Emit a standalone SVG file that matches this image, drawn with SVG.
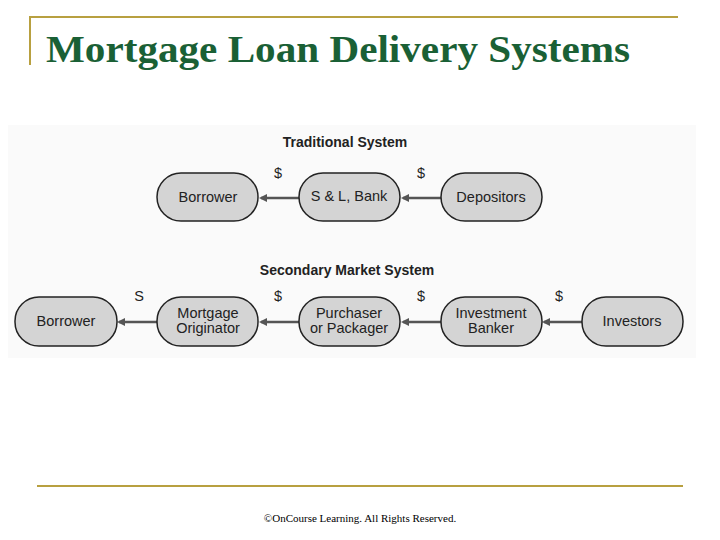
<svg xmlns="http://www.w3.org/2000/svg" width="720" height="540" viewBox="0 0 720 540">
<style>
.n{fill:#d4d4d4;stroke:#222;stroke-width:1.5}
.t{font-family:"Liberation Sans",Arial,sans-serif;font-size:14.5px;fill:#222;text-anchor:middle}
.h{font-family:"Liberation Sans",Arial,sans-serif;font-size:14px;font-weight:bold;fill:#222;text-anchor:middle}
.c{stroke:#555;stroke-width:2.5;fill:none;marker-end:url(#a)}
</style>
<defs><marker id="a" markerWidth="8" markerHeight="8" refX="6" refY="4" orient="auto" markerUnits="userSpaceOnUse"><path d="M0,0 L8,4 L0,8 Z" fill="#555"/></marker></defs>
<rect width="720" height="540" fill="#fff"/>
<rect x="8" y="125" width="688" height="233" fill="#fafafa"/>
<path d="M30,65 V17 H678" stroke="#b8a040" stroke-width="2" fill="none"/>
<line x1="37" y1="486" x2="683" y2="486" stroke="#b8a040" stroke-width="2"/>
<text x="46" y="62" font-family="Liberation Serif,serif" font-size="38" font-weight="bold" fill="#1a6035" textLength="584" lengthAdjust="spacingAndGlyphs">Mortgage Loan Delivery Systems</text>
<text x="360" y="522" font-family="Liberation Serif,serif" font-size="11" text-anchor="middle" fill="#000">©OnCourse Learning. All Rights Reserved.</text>
<text class="h" x="345" y="147">Traditional System</text>
<text class="h" x="347" y="275">Secondary Market System</text>
<g id="connectors">
<line class="c" x1="299" y1="198" x2="261" y2="198"/>
<line class="c" x1="441" y1="198" x2="403" y2="198"/>
<line class="c" x1="157" y1="322" x2="119" y2="322"/>
<line class="c" x1="299" y1="322" x2="261" y2="322"/>
<line class="c" x1="441" y1="322" x2="403" y2="322"/>
<line class="c" x1="582" y1="322" x2="544" y2="322"/>
<text class="t" x="278" y="178">$</text>
<text class="t" x="421" y="178">$</text>
<text class="t" x="139" y="301">S</text>
<text class="t" x="278" y="301">$</text>
<text class="t" x="421" y="301">$</text>
<text class="t" x="559" y="301">$</text>
</g>
<g id="t1"><rect class="n" x="157" y="173" width="101" height="48" rx="24"/><text class="t" x="208" y="202">Borrower</text></g>
<g id="t2"><rect class="n" x="299" y="173" width="101" height="48" rx="24"/><text class="t" x="349" y="201">S &amp; L, Bank</text></g>
<g id="t3"><rect class="n" x="441" y="173" width="101" height="48" rx="24"/><text class="t" x="491" y="202">Depositors</text></g>
<g id="s1"><rect class="n" x="15" y="297" width="102" height="49" rx="24"/><text class="t" x="66" y="326">Borrower</text></g>
<g id="s2"><rect class="n" x="157" y="297" width="101" height="49" rx="24"/><text class="t" x="208" y="318">Mortgage</text><text class="t" x="208" y="333">Originator</text></g>
<g id="s3"><rect class="n" x="299" y="297" width="101" height="49" rx="24"/><text class="t" x="349" y="318">Purchaser</text><text class="t" x="349" y="333">or Packager</text></g>
<g id="s4"><rect class="n" x="441" y="297" width="101" height="49" rx="24"/><text class="t" x="491" y="318">Investment</text><text class="t" x="491" y="333">Banker</text></g>
<g id="s5"><rect class="n" x="582" y="297" width="101" height="49" rx="24"/><text class="t" x="632" y="326">Investors</text></g>
</svg>
